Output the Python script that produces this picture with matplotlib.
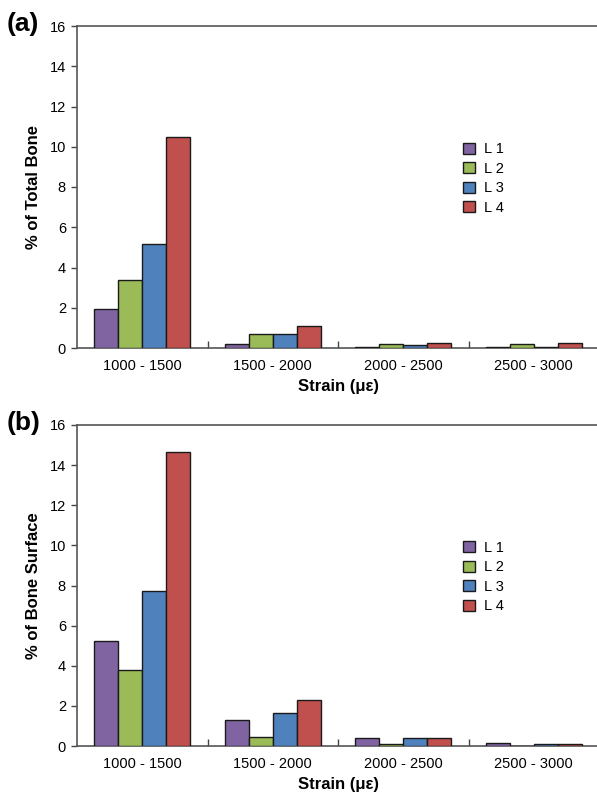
import matplotlib
matplotlib.use("Agg")
import matplotlib.pyplot as plt
import numpy as np

plt.rcParams['font.family'] = ['Liberation Sans', 'DejaVu Sans']

categories = ["1000 - 1500", "1500 - 2000", "2000 - 2500", "2500 - 3000"]
series_names = ["L 1", "L 2", "L 3", "L 4"]
colors = ["#8064A2", "#9BBB59", "#4F81BD", "#C0504D"]

total_bone = {
    "L 1": [1.94, 0.20, 0.03, 0.03],
    "L 2": [3.38, 0.70, 0.20, 0.22],
    "L 3": [5.17, 0.68, 0.15, 0.04],
    "L 4": [10.5, 1.10, 0.23, 0.27],
}
bone_surface = {
    "L 1": [5.25, 1.31, 0.42, 0.15],
    "L 2": [3.77, 0.43, 0.10, 0.02],
    "L 3": [7.71, 1.66, 0.42, 0.12],
    "L 4": [14.63, 2.29, 0.42, 0.12],
}
yticks = [0, 2, 4, 6, 8, 10, 12, 14, 16]

W, H = 597, 798
fig = plt.figure(figsize=(W / 100, H / 100), dpi=100)

def px_axes(left, top, right, bottom):
    return fig.add_axes([left / W, 1 - bottom / H, (right - left) / W, (bottom - top) / H])

def draw(ax, data, ylabel, panel, panel_y):
    x = np.arange(len(categories))
    bw = 0.183
    for i, name in enumerate(series_names):
        ax.bar(x + (i - 1.5) * bw, data[name], width=bw, color=colors[i],
               edgecolor="#1a1a1a", linewidth=1.0, label=name, zorder=3)
    ax.set_xlim(-0.5, len(categories) - 0.5)
    ax.set_ylim(0, 16)
    ax.set_yticks(yticks)
    ax.set_yticklabels([str(v) for v in yticks], fontsize=10.5)
    ax.set_xticks(np.arange(len(categories) - 1) + 0.5)
    ax.set_xticklabels([])
    ax.set_xticks(x, minor=True)
    ax.set_xticklabels(categories, minor=True, fontsize=10.5)
    ax.tick_params(axis='x', which='minor', length=0, pad=8)
    ax.tick_params(axis='x', which='major', length=5, direction='in', width=1, color="#444444")
    ax.tick_params(axis='y', length=4, direction='out', width=1, color="#444444", pad=4)
    for s in ["left", "bottom", "top"]:
        ax.spines[s].set_color("#555555")
        ax.spines[s].set_linewidth(1.2)
    ax.spines["right"].set_visible(False)
    ax.set_ylabel(ylabel, fontsize=12, fontweight='bold', labelpad=6)
    ax.set_xlabel("Strain (με)", fontsize=12, fontweight='bold', labelpad=4)
    fig.text(7 / W, 1 - panel_y / H, panel, fontsize=19, fontweight='bold',
             ha='left', va='center')
    ax.legend(loc='upper left', bbox_to_anchor=(0.715, 0.68), frameon=False,
              fontsize=10.5, handlelength=0.8, handleheight=0.8, handletextpad=0.6,
              labelspacing=0.38)

ax1 = px_axes(77, 26, 599, 348)
draw(ax1, total_bone, "% of Total Bone", "(a)", 24)
ax2 = px_axes(77, 425, 599, 746)
draw(ax2, bone_surface, "% of Bone Surface", "(b)", 423)

fig.savefig("out.png", dpi=100)
